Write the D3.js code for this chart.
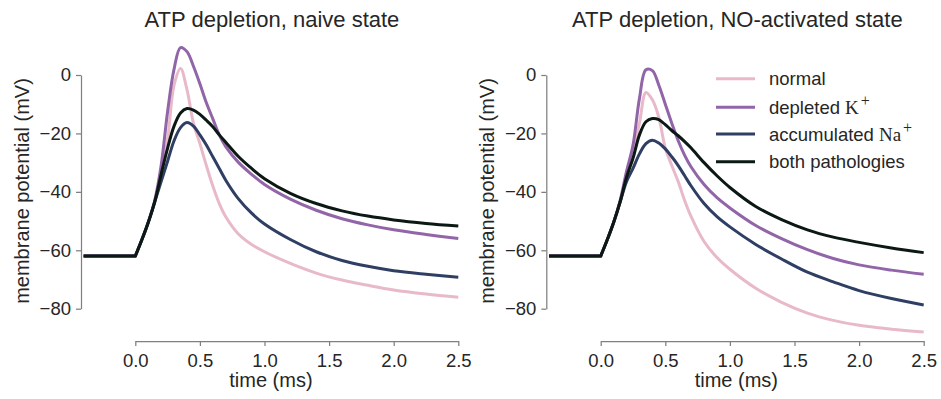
<!DOCTYPE html>
<html>
<head>
<meta charset="utf-8">
<script src="https://cdn.jsdelivr.net/npm/d3@7"></script>
<style>
  body { margin: 0; background: #fff; }
  svg text { font-family: "Liberation Sans", Arial, sans-serif; fill: #262626; }
</style>
</head>
<body>
<svg width="941" height="399"></svg>
<script>
// time in ms, membrane potential in mV
const time = [-0.4, 0, 0.05, 0.1, 0.15, 0.2, 0.25, 0.3, 0.35, 0.4, 0.45, 0.5, 0.55, 0.6, 0.65, 0.7, 0.8, 0.9, 1.0, 1.2, 1.4, 1.6, 1.8, 2.0, 2.25, 2.5]

const naiveNormal = [-62, -62, -56.5, -50.5, -43.5, -33, -22, -3.5, 2.2, -5, -16.5, -23.5, -31, -38, -44, -48.5, -54.5, -58, -60.5, -64.5, -67.8, -70.2, -72, -73.6, -75, -76.1]
const naiveK      = [-62, -62, -56.5, -50.5, -43, -31, -12.5, 2, 9.4, 8, 3, -3, -9.5, -15, -20.5, -24.5, -30, -34, -37.5, -42.5, -46.3, -49.2, -51.3, -53, -54.6, -56]
const naiveNa     = [-62, -62, -56.5, -50.5, -43.5, -36.5, -29.5, -22.5, -18, -16.3, -17.5, -20.5, -24, -28, -32, -36, -42.5, -47.3, -51, -56.3, -60.5, -63.5, -65.5, -67, -68.2, -69.2]
const naiveBoth   = [-62, -62, -56.5, -50.5, -43.5, -34, -25, -17.5, -13, -11.5, -12, -13.5, -15.5, -17.7, -20.5, -23, -28, -32, -35.5, -40.5, -44, -46.5, -48.3, -49.6, -50.8, -51.7]

const noNormal = [-62, -62, -56.5, -50.5, -43.5, -34, -26, -16.5, -6, -8.5, -14.5, -25, -31, -36.5, -43, -48.5, -57, -62.5, -66.5, -73, -77.8, -81.5, -84, -85.7, -87, -88]
const noK      = [-62, -62, -56.5, -50.5, -43, -33, -24, -8, 1.8, 1.5, -3.5, -10, -16.5, -22.5, -27.5, -31.5, -37.5, -42, -45.5, -51.5, -56, -59.8, -62.8, -65, -66.8, -68.2]
const noNa     = [-62, -62, -56.5, -50.5, -43.5, -36.5, -32, -27, -23.5, -22.3, -23.3, -25.3, -28, -31, -34.5, -38, -44, -48.5, -52, -58, -63, -67.5, -70.8, -73.8, -76.5, -78.7]
const noBoth   = [-62, -62, -56.5, -50.5, -43.5, -35, -28.5, -20.5, -16, -14.9, -15.3, -17, -19, -20.8, -22.8, -25, -30, -34.5, -38.5, -45, -49.5, -53, -55.5, -57.3, -59.2, -60.8]

const titles = ["ATP depletion, naive state", "ATP depletion, NO-activated state"]
const legendNames = ["normal", "depleted", "accumulated", "both pathologies"]
const legendMath = [null, ["K", "+"], ["Na", "+"], null]
const colors = ["#e8b9c9", "#9165a8", "#2f3f63", "#0b1814"]
const xTicks = [0, 0.5, 1.0, 1.5, 2.0, 2.5]
const yTicks = [0, -20, -40, -60, -80]

const panels = [
  { title: titles[0], series: [naiveNormal, naiveK, naiveNa, naiveBoth], left: 81, x0: 135.3, legend: false },
  { title: titles[1], series: [noNormal, noK, noNa, noBoth], left: 546.3, x0: 600.7, legend: true }
]

const svg = d3.select("svg")
const minus = s => s.replace("-", "\u2212")

panels.forEach(p => {
  const x = d3.scaleLinear().domain([0, 2.5]).range([p.x0, p.x0 + 323])
  const y = d3.scaleLinear().domain([-80, 0]).range([308.7, 75])
  const g = svg.append("g")
  const mid = (x(time[0]) + x(2.5)) / 2

  // axes, trimmed to the tick range
  g.append("g")
    .attr("transform", `translate(${p.left},0)`)
    .call(d3.axisLeft(y).tickValues(yTicks).tickSize(5).tickPadding(5).tickSizeOuter(0)
      .tickFormat(d => minus(String(d))))
  g.append("g")
    .attr("transform", "translate(0,341)")
    .call(d3.axisBottom(x).tickValues(xTicks).tickSize(5).tickPadding(7.5).tickSizeOuter(0)
      .tickFormat(d3.format(".1f")))
  g.selectAll(".domain").attr("stroke", "#808080").attr("stroke-width", 1.25)
  g.selectAll(".tick line").attr("stroke", "#808080").attr("stroke-width", 1.25)
  g.selectAll(".tick text").attr("font-size", 18.5).attr("fill", "#262626")
    .attr("font-family", "Liberation Sans, Arial, sans-serif")

  g.append("text")
    .attr("x", mid + 1)
    .attr("y", 26.7)
    .attr("text-anchor", "middle")
    .attr("font-size", 22)
    .text(p.title)

  g.append("text")
    .attr("transform", `translate(${p.left - 52},191) rotate(-90)`)
    .attr("text-anchor", "middle")
    .attr("font-size", 20)
    .text("membrane potential (mV)")

  g.append("text")
    .attr("x", mid)
    .attr("y", 387)
    .attr("text-anchor", "middle")
    .attr("font-size", 20)
    .text("time (ms)")

  const line = d3.line()
    .x((d, i) => x(time[i + 1]))
    .y(d => y(d))
    .curve(d3.curveCatmullRom.alpha(0.5))

  p.series.forEach((vals, k) => {
    // flat resting segment then the smooth response, with a sharp corner at t = 0
    const d = `M${x(time[0])},${y(vals[0])}L` + line(vals.slice(1)).slice(1)
    g.append("path")
      .attr("d", d)
      .attr("fill", "none")
      .attr("stroke", colors[k])
      .attr("stroke-width", 3)
      .attr("stroke-linejoin", "round")
  })

  if (p.legend) {
    const rows = [78.7, 107.3, 134, 161.7]
    legendNames.forEach((name, k) => {
      g.append("line")
        .attr("x1", 716).attr("x2", 755)
        .attr("y1", rows[k]).attr("y2", rows[k])
        .attr("stroke", colors[k]).attr("stroke-width", 3)
      const t = g.append("text")
        .attr("x", 769)
        .attr("y", rows[k] + 6.5)
        .attr("font-size", 18.5)
        .text(name)
      if (legendMath[k]) {
        t.append("tspan")
          .attr("font-family", "Liberation Serif, DejaVu Serif, serif")
          .attr("font-size", 19)
          .attr("dx", 5)
          .text(legendMath[k][0])
        t.append("tspan")
          .attr("font-family", "Liberation Serif, DejaVu Serif, serif")
          .attr("font-size", 16)
          .attr("dx", 2)
          .attr("dy", -8)
          .text(legendMath[k][1])
      }
    })
  }
})
</script>
</body>
</html>
